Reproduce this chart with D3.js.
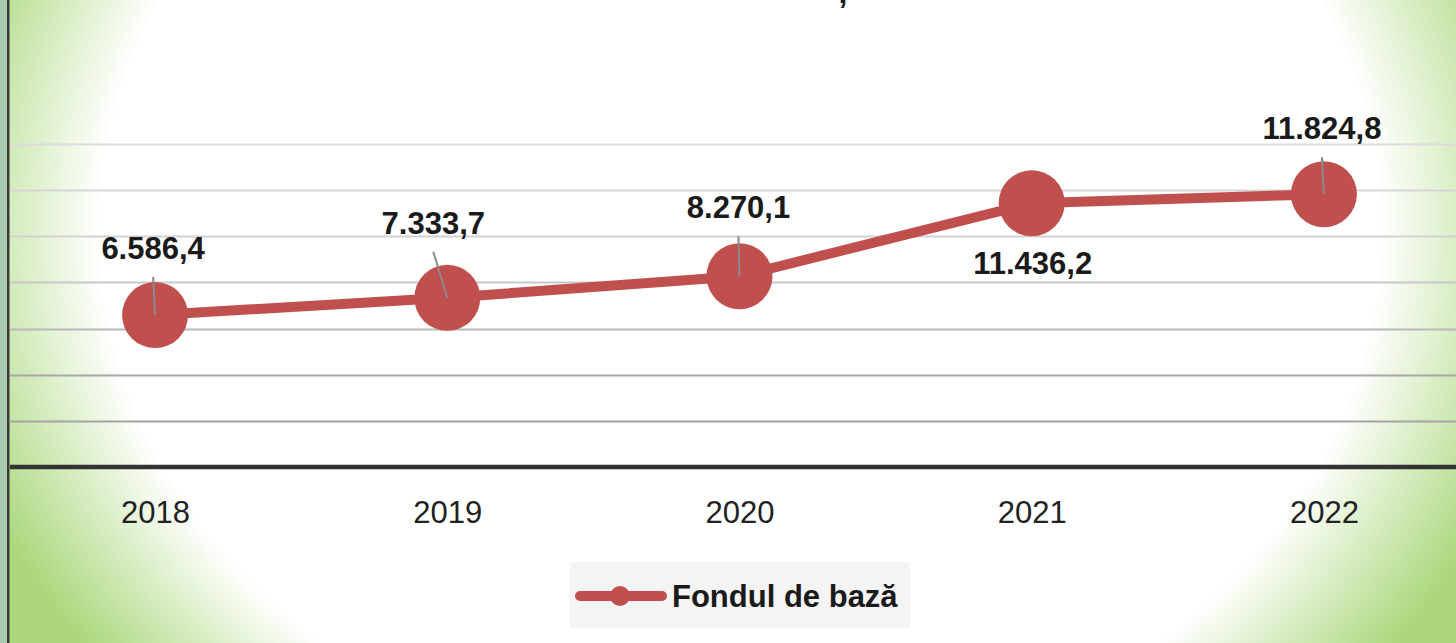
<!DOCTYPE html>
<html>
<head>
<meta charset="utf-8">
<script src="https://cdn.jsdelivr.net/npm/d3@7"></script>
<style>
  html, body { margin: 0; padding: 0; background: #fff; }
  svg { display: block; }
</style>
</head>
<body>
<svg id="chart" width="1456" height="643"></svg>
<script>
// ---- data ----
const years = ["2018", "2019", "2020", "2021", "2022"];
const values = [6586.4, 7333.7, 8270.1, 11436.2, 11824.8];
const valueLabels = ["6.586,4", "7.333,7", "8.270,1", "11.436,2", "11.824,8"];
const yTicks = [2000, 4000, 6000, 8000, 10000, 12000, 14000];
const seriesName = "Fondul de bază";

// ---- label placement (manual, as in source) ----
const labelDx = [-2, -14, -1, 1, -2];
const labelDy = [-56, -64, -58, 71, -55];
const labelLeader = [true, true, true, false, true];

const W = 1456, H = 643;
const svg = d3.select("#chart");
const red = "#c0504d";
const font = "'Liberation Sans', Arial, sans-serif";

// background
const defs = svg.append("defs");
const rg = defs.append("radialGradient")
  .attr("id", "bg")
  .attr("gradientUnits", "userSpaceOnUse")
  .attr("cx", 740).attr("cy", 230).attr("r", 820)
  .attr("gradientTransform", "translate(0,34.5) scale(1,0.85)");
rg.append("stop").attr("offset", 0).attr("stop-color", "#ffffff");
rg.append("stop").attr("offset", 0.78).attr("stop-color", "#ffffff");
rg.append("stop").attr("offset", 1).attr("stop-color", "#a9d77a");
svg.append("rect").attr("width", W).attr("height", H).attr("fill", "url(#bg)");

// left border
svg.append("rect").attr("x", 0).attr("y", 0).attr("width", 7).attr("height", H).attr("fill", "#a9c9b0");
svg.append("rect").attr("x", 7).attr("y", 0).attr("width", 2.5).attr("height", H).attr("fill", "#3a3a3a");

// title fragment (clipped at top, as in the source image)
svg.append("text").attr("x", 843).attr("y", 3).attr("text-anchor", "middle")
  .attr("font-family", font).attr("font-weight", "bold").attr("font-size", 32)
  .attr("fill", "#1a1a1a").text(",");

// scales
const x = d3.scalePoint().domain(years).range([9, 1470]).padding(0.5);
const y = d3.scaleLinear().domain([0, 14000]).range([467, 144]);

// gridlines
const gridCols = ["#a4a4a4", "#a8a8a8", "#b8b8b8", "#c8c8c8", "#d2d2d2", "#d6d6d6", "#dcdcdc"];
svg.append("g").selectAll("line").data(yTicks).join("line")
  .attr("x1", 10).attr("x2", W)
  .attr("y1", d => Math.round(y(d)) + 0.5).attr("y2", d => Math.round(y(d)) + 0.5)
  .attr("stroke", (d, i) => gridCols[i]).attr("stroke-width", 2);

// x axis
const xAxis = svg.append("g").attr("transform", `translate(0,${y(0)})`)
  .call(d3.axisBottom(x).tickSize(0).tickPadding(34));
xAxis.select(".domain").remove();
xAxis.selectAll("text").attr("font-family", font).attr("font-size", 31)
  .attr("fill", "#222");
svg.append("line").attr("x1", 10).attr("x2", W).attr("y1", y(0)).attr("y2", y(0))
  .attr("stroke", "#333").attr("stroke-width", 4.5);

// line
const pts = years.map((yr, i) => ({ yr, v: values[i], i }));
svg.append("path").datum(pts)
  .attr("d", d3.line().x(d => x(d.yr)).y(d => y(d.v)))
  .attr("fill", "none").attr("stroke", red).attr("stroke-width", 10)
  .attr("stroke-linejoin", "round");

// markers
svg.append("g").selectAll("circle").data(pts).join("circle")
  .attr("cx", d => x(d.yr)).attr("cy", d => y(d.v)).attr("r", 33)
  .attr("fill", red);

// leader lines
svg.append("g").selectAll("line").data(pts.filter(d => labelLeader[d.i])).join("line")
  .attr("x1", d => x(d.yr) + labelDx[d.i]).attr("y1", d => y(d.v) + labelDy[d.i] + 18)
  .attr("x2", d => x(d.yr)).attr("y2", d => y(d.v))
  .attr("stroke", "#8a8a8a").attr("stroke-width", 2);

// data labels
svg.append("g").selectAll("text").data(pts).join("text")
  .attr("x", d => x(d.yr) + labelDx[d.i]).attr("y", d => y(d.v) + labelDy[d.i])
  .attr("text-anchor", "middle")
  .attr("font-family", font).attr("font-weight", "bold").attr("font-size", 31)
  .attr("fill", "#1a1a1a").text(d => valueLabels[d.i]);

// legend
const lg = svg.append("g");
lg.append("rect").attr("x", 570).attr("y", 562).attr("width", 340).attr("height", 66).attr("fill", "#f4f4f4");
lg.append("line").attr("x1", 580).attr("x2", 662).attr("y1", 596).attr("y2", 596)
  .attr("stroke", red).attr("stroke-width", 10).attr("stroke-linecap", "round");
lg.append("circle").attr("cx", 620).attr("cy", 596).attr("r", 10).attr("fill", red);
lg.append("text").attr("x", 672).attr("y", 607)
  .attr("font-family", font).attr("font-weight", "bold").attr("font-size", 31)
  .attr("fill", "#1a1a1a").text(seriesName);
</script>
</body>
</html>
